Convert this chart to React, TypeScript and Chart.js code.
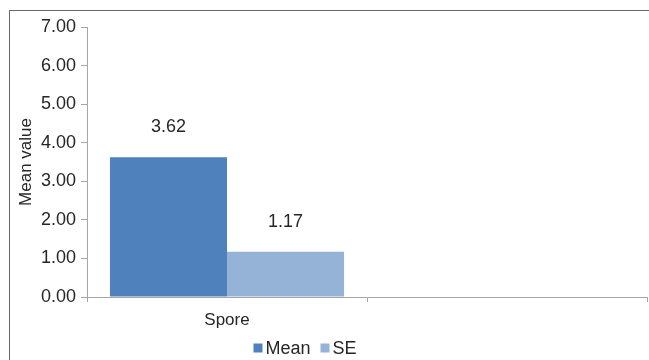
import React, { useEffect, useRef } from "react";
import { Chart, registerables } from "chart.js";

Chart.register(...registerables);

const categories = ["Spore", ""];
const seriesNames = ["Mean", "SE"];
const meanValues = [3.62, null];
const seValues = [1.17, null];
const yTicks = [0, 1, 2, 3, 4, 5, 6, 7];

const FONT = "'Liberation Sans', Arial, sans-serif";
const TEXT = "#262626";
const AXIS = "#a6a6a6";
const COLORS = ["#4F81BD", "#95B3D7"];

const valueLabels = {
  id: "valueLabels",
  afterDatasetsDraw(chart: any) {
    const ctx = chart.ctx;
    ctx.save();
    ctx.font = `18px ${FONT}`;
    ctx.fillStyle = TEXT;
    ctx.textAlign = "center";
    ctx.textBaseline = "middle";
    chart.data.datasets.forEach((ds: any, i: number) => {
      const meta = chart.getDatasetMeta(i);
      meta.data.forEach((bar: any, j: number) => {
        const v = ds.data[j];
        if (v === null || v === undefined) return;
        ctx.fillText(Number(v).toFixed(2), bar.x, bar.y - 30);
      });
    });
    ctx.restore();
  },
};

const customLegend = {
  id: "customLegend",
  afterDraw(chart: any) {
    const ctx = chart.ctx;
    ctx.save();
    ctx.font = `18px ${FONT}`;
    ctx.textBaseline = "middle";
    ctx.textAlign = "left";
    const box = 9;
    const gapBoxText = 3;
    const gapItems = 10;
    const items = chart.data.datasets.map((ds: any) => ({
      label: ds.label,
      color: ds.backgroundColor,
      w: ctx.measureText(ds.label).width,
    }));
    const total = items.reduce(
      (s: number, it: any, i: number) => s + box + gapBoxText + it.w + (i > 0 ? gapItems : 0),
      0
    );
    let x = 305 - total / 2;
    const y = 348;
    items.forEach((it: any) => {
      ctx.fillStyle = it.color;
      ctx.fillRect(x, y - box / 2, box, box);
      x += box + gapBoxText;
      ctx.fillStyle = TEXT;
      ctx.fillText(it.label, x, y + 1);
      x += it.w + gapItems;
    });
    ctx.restore();
  },
};

export default function App() {
  const ref = useRef<HTMLCanvasElement>(null);
  useEffect(() => {
    if (!ref.current) return;
    const chart = new Chart(ref.current, {
      type: "bar",
      data: {
        labels: categories,
        datasets: [
          { label: seriesNames[0], data: meanValues, backgroundColor: COLORS[0] },
          { label: seriesNames[1], data: seValues, backgroundColor: COLORS[1] },
        ],
      },
      options: {
        animation: false,
        responsive: false,
        maintainAspectRatio: false,
        layout: { padding: { top: 27, left: 0, right: 2, bottom: 23 } },
        datasets: { bar: { categoryPercentage: 0.836, barPercentage: 1 } },
        plugins: { legend: { display: false }, tooltip: { enabled: false } },
        scales: {
          x: {
            offset: true,
            grid: { offset: true, drawOnChartArea: false, drawTicks: true, tickLength: 5, color: AXIS },
            border: { display: true, color: AXIS },
            ticks: { color: TEXT, font: { family: FONT, size: 17 }, padding: 8, maxRotation: 0 },
            afterFit: (s: any) => {
              s.height = 40;
            },
          },
          y: {
            min: yTicks[0],
            max: yTicks[yTicks.length - 1],
            afterBuildTicks: (s: any) => {
              s.ticks = yTicks.map((v) => ({ value: v }));
            },
            grid: { drawOnChartArea: false, drawTicks: true, tickLength: 6, color: AXIS },
            border: { display: true, color: AXIS },
            ticks: {
              color: TEXT,
              font: { family: FONT, size: 18 },
              padding: 5,
              callback: (v: any) => Number(v).toFixed(2),
            },
            title: {
              display: true,
              text: "Mean value",
              color: TEXT,
              font: { family: FONT, size: 17 },
              padding: { top: 16, bottom: 0 },
            },
            afterFit: (s: any) => {
              s.width = 87;
            },
          },
        },
      },
      plugins: [valueLabels, customLegend],
    });
    return () => chart.destroy();
  }, []);
  return (
    <div style={{ position: "absolute", left: 0, top: 0, width: 649, height: 360, background: "#fff" }}>
      <canvas ref={ref} width={649} height={360} style={{ position: "absolute", left: 0, top: 0 }} />
      <div
        style={{
          position: "absolute",
          left: 9,
          top: 10,
          width: 700,
          height: 400,
          border: "1px solid #666",
          boxSizing: "border-box",
          pointerEvents: "none",
        }}
      />
    </div>
  );
}
